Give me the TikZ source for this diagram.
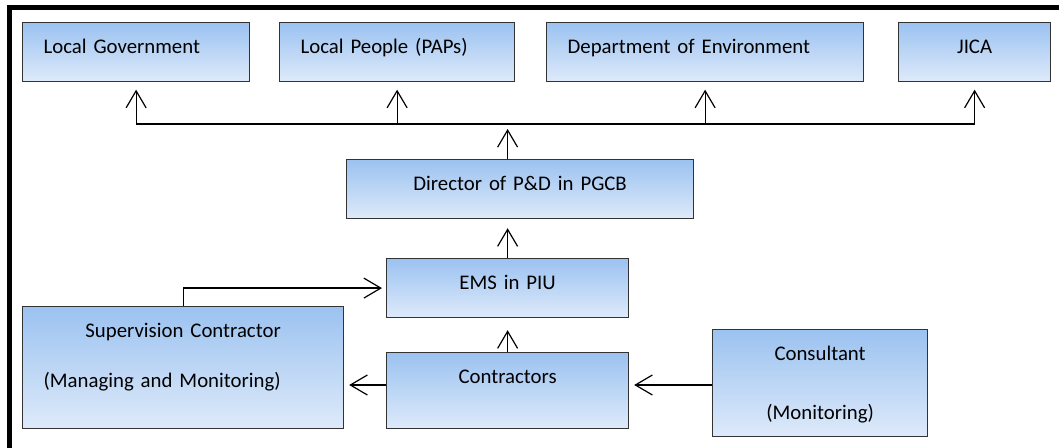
\documentclass[tikz,border=0pt]{standalone}
\usepackage{fontspec}
\setmainfont{Carlito}
\usetikzlibrary{arrows.meta,calc}
\definecolor{boxtop}{RGB}{155,194,240}
\definecolor{boxbot}{RGB}{222,234,250}
\tikzset{
  box/.style 2 args={draw=black!80, line width=0.9pt, top color=boxtop, bottom color=boxbot,
    anchor=north west, inner xsep=21*0.75pt, inner ysep=0pt,
    text width=(#1-42)*0.75pt, text height=31*0.75pt, text depth=(#2-31)*0.75pt},
  arr/.style={-{Straight Barb[length=12.75pt,width=15pt]}, line width=0.9pt},
}
\begin{document}
\begin{tikzpicture}[x=0.75pt,y=-0.75pt,font=\fontsize{15.6}{19}\selectfont]
\useasboundingbox (0,0) rectangle (1059,448);
\draw[line width=3.75pt] (9.5,448)--(9.5,7.5)--(1059,7.5);
\node[box={227}{59}, align=left] (lg) at (22,22) {Local Government};
\node[box={235}{59}, align=left] (lp) at (279,22) {Local People (PAPs)};
\node[box={317}{59}, align=left] (doe) at (546,22) {Department of Environment};
\node[box={152}{59}, align=center] (jica) at (898,22) {JICA};
\node[box={347}{59}, align=center] (dir) at (346,159) {Director of P\&D in PGCB};
\node[box={242}{59}, align=center] (ems) at (386,258) {EMS in PIU};
\node[box={321}{122}, align=left] (sup) at (22,306)
  {\makebox[209.25pt]{Supervision Contractor}\\[18.75pt](Managing and Monitoring)};
\node[box={242}{76}, align=center] (con) at (386,352) {Contractors};
\node[box={215}{107}, align=center] (cons) at (712,329) {Consultant\\[25.5pt](Monitoring)};
\coordinate (bus) at (ems.north |- 0,124);
\coordinate (mid) at (0,385);
\draw[line width=0.9pt] (lg.south |- bus) -- (jica.south |- bus);
\foreach \n in {lg,lp,doe,jica}
  \draw[arr, shorten >=5.6pt] (\n.south |- bus) -- (\n.south);
\draw[arr, shorten >=3.75pt] (bus |- dir.north) -- (bus);
\draw[arr, shorten >=6.75pt] (ems.north) -- (ems.north |- dir.south);
\draw[arr, shorten >=9pt] (con.north) -- (ems.south);
\draw[arr, shorten >=3pt] (sup.north) |- (ems.west);
\draw[arr, shorten >=3.75pt] (con.west |- mid) -- (sup.east |- mid);
\draw[arr, shorten >=3.75pt] (cons.west |- mid) -- (con.east |- mid);
\end{tikzpicture}
\end{document}
